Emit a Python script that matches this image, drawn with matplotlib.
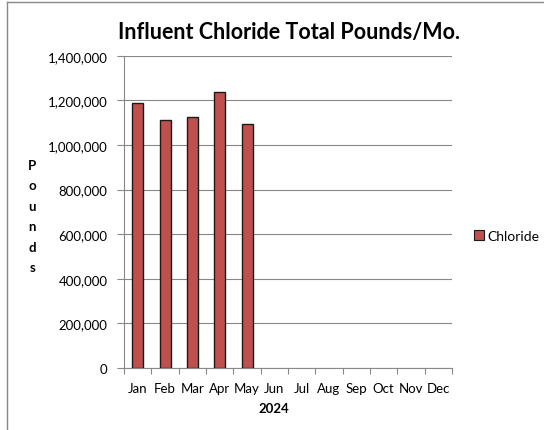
import matplotlib
matplotlib.use("Agg")
import matplotlib.pyplot as plt
from matplotlib.lines import Line2D
from matplotlib.patches import Patch
from matplotlib.ticker import FuncFormatter, MultipleLocator, FixedLocator

plt.rcParams['font.family'] = ['Lato', 'DejaVu Sans']

months = ["Jan", "Feb", "Mar", "Apr", "May", "Jun", "Jul", "Aug", "Sep", "Oct", "Nov", "Dec"]
chloride = [1188000, 1113000, 1128000, 1237000, 1096000, None, None, None, None, None, None, None]
title = "Influent Chloride Total Pounds/Mo."
xlabel = "2024"
ylabel = "Pounds"
series_name = "Chloride"

fig = plt.figure(figsize=(5.44, 4.31), dpi=100)
ax = fig.add_axes([0.228, 0.144, 0.603, 0.724])

xs = list(range(len(months)))
bar_color = "#C0504D"
ax.bar([x for x, v in zip(xs, chloride) if v is not None],
       [v for v in chloride if v is not None],
       width=0.4, color=bar_color, edgecolor="#1a1a1a", linewidth=1.0, zorder=3)

ax.set_xlim(-0.5, len(months) - 0.5)
ax.set_ylim(0, 1400000)
ax.yaxis.set_major_locator(MultipleLocator(200000))
ax.yaxis.set_major_formatter(FuncFormatter(lambda v, p: f"{int(v):,}"))
ax.set_xticks(xs)
ax.set_xticklabels(months)
ax.xaxis.set_minor_locator(FixedLocator([x - 0.5 for x in xs] + [len(months) - 0.5]))
ax.tick_params(axis='x', which='major', length=0, labelsize=9.5, pad=10, colors="#000000")
ax.tick_params(axis='x', which='minor', length=4, color="#888888", width=0.8)
ax.tick_params(axis='y', which='major', length=5, color="#888888", width=0.8, labelsize=9.5, pad=7)

ax.grid(axis='y', color="#888888", linewidth=0.8, zorder=0)
for s in ["top", "right"]:
    ax.spines[s].set_visible(False)
for s in ["left", "bottom"]:
    ax.spines[s].set_color("#888888")
    ax.spines[s].set_linewidth(0.8)

fig.text(0.532, 0.925, title, ha="center", va="center", fontsize=15.5, fontweight="bold")
fig.text(0.5035, 0.052, xlabel, ha="center", va="center", fontsize=9.5, fontweight="bold")
fig.text(0.059, 0.497, "\n".join(ylabel), ha="center", va="center", fontsize=9.5,
         fontweight="bold", linespacing=1.85)

fig.legend(handles=[Patch(facecolor=bar_color, edgecolor="#1a1a1a", linewidth=0.8, label=series_name)],
           loc="center left", bbox_to_anchor=(0.871, 0.45), frameon=False, fontsize=10,
           borderpad=0, borderaxespad=0,
           handlelength=0.7, handleheight=0.7, handletextpad=0.3)

fig.add_artist(Line2D([0.0135, 0.0135], [0, 0.993], transform=fig.transFigure, color="#888888", linewidth=1.0))
fig.add_artist(Line2D([0.0135, 1.0], [0.993, 0.993], transform=fig.transFigure, color="#888888", linewidth=1.0))

fig.savefig("out.png", dpi=100)
